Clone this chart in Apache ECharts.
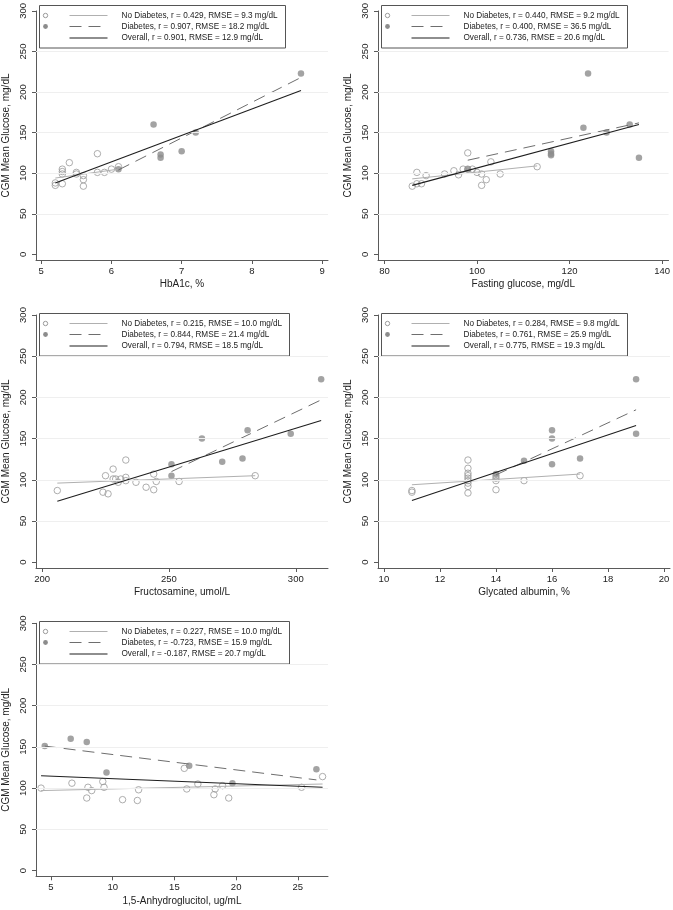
<!DOCTYPE html>
<html><head><meta charset="utf-8">
<script src="https://cdn.jsdelivr.net/npm/echarts@6/dist/echarts.min.js"></script>
<style>html,body{margin:0;padding:0;background:#fff}#c{width:673px;height:910px}</style>
</head><body><div id="c"></div>
<script>
const yTicks = [0, 50, 100, 150, 200, 250, 300];
const yGridLines = [50, 100, 150, 200, 250];
const yTitle = 'CGM Mean Glucose, mg/dL';

// Panel 1: HbA1c
const hba1cTitle = 'HbA1c, %';
const hba1cTicks = [5, 6, 7, 8, 9];
const hba1cNoDmX = [5.2, 5.2, 5.3, 5.3, 5.3, 5.3, 5.4, 5.5, 5.5, 5.6, 5.6, 5.6, 5.8, 5.8, 5.9, 6.0, 6.1];
const hba1cNoDmY = [88, 85, 87, 105, 102, 99, 113, 101, 99, 97, 92, 84, 124, 101, 101, 105, 108];
const hba1cDmX = [6.1, 6.6, 6.7, 6.7, 7.0, 7.2, 8.7];
const hba1cDmY = [105, 160, 123, 119, 127, 150, 223];
const hba1cFitNoDmX = [5.2, 6.1], hba1cFitNoDmY = [94, 105];
const hba1cFitDmX = [6.1, 8.7], hba1cFitDmY = [104, 218];
const hba1cFitAllX = [5.2, 8.7], hba1cFitAllY = [88, 202];
const hba1cLegend = ['No Diabetes, r = 0.429, RMSE = 9.3 mg/dL', 'Diabetes, r = 0.907, RMSE = 18.2 mg/dL', 'Overall, r = 0.901, RMSE = 12.9 mg/dL'];

// Panel 2: Fasting glucose
const fgTitle = 'Fasting glucose, mg/dL';
const fgTicks = [80, 100, 120, 140];
const fgNoDmX = [86, 87, 87, 88, 89, 93, 95, 96, 97, 98, 98, 99, 100, 101, 101, 102, 103, 105, 113];
const fgNoDmY = [84, 101, 87, 87, 97, 99, 103, 98, 105, 125, 105, 105, 101, 99, 85, 92, 114, 99, 108];
const fgDmX = [98, 116, 116, 116, 123, 124, 128, 133, 135];
const fgDmY = [105, 127, 124, 122, 156, 223, 150, 160, 119];
const fgFitNoDmX = [86, 113], fgFitNoDmY = [93, 109];
const fgFitDmX = [98, 135], fgFitDmY = [116, 162];
const fgFitAllX = [86, 135], fgFitAllY = [85, 160];
const fgLegend = ['No Diabetes, r = 0.440, RMSE = 9.2 mg/dL', 'Diabetes, r = 0.400, RMSE = 36.5 mg/dL', 'Overall, r = 0.736, RMSE = 20.6 mg/dL'];

// Panel 3: Fructosamine
const frTitle = 'Fructosamine, umol/L';
const frTicks = [200, 250, 300];
const frNoDmX = [206, 224, 225, 226, 228, 228, 229, 230, 231, 233, 233, 233, 237, 241, 244, 244, 245, 254, 284];
const frNoDmY = [87, 85, 105, 83, 113, 101, 101, 97, 101, 124, 103, 99, 97, 91, 107, 88, 98, 98, 105];
const frDmX = [251, 251, 263, 271, 279, 281, 298, 310];
const frDmY = [119, 105, 150, 122, 126, 160, 156, 222];
const frFitNoDmX = [206, 284], frFitNoDmY = [96, 105];
const frFitDmX = [251, 310], frFitDmY = [110, 197];
const frFitAllX = [206, 310], frFitAllY = [74, 172];
const frLegend = ['No Diabetes, r = 0.215, RMSE = 10.0 mg/dL', 'Diabetes, r = 0.844, RMSE = 21.4 mg/dL', 'Overall, r = 0.794, RMSE = 18.5 mg/dL'];

// Panel 4: Glycated albumin
const gaTitle = 'Glycated albumin, %';
const gaTicks = [10, 12, 14, 16, 18, 20];
const gaNoDmX = [11, 11, 13, 13, 13, 13, 13, 13, 13, 13, 13, 14, 14, 14, 14, 15, 17];
const gaNoDmY = [87, 85, 124, 114, 108, 105, 102, 99, 96, 92, 84, 105, 102, 99, 88, 99, 105];
const gaDmX = [14, 15, 16, 16, 16, 17, 19, 19];
const gaDmY = [107, 123, 160, 150, 119, 126, 156, 222];
const gaFitNoDmX = [11, 17], gaFitNoDmY = [94, 107];
const gaFitDmX = [14, 19], gaFitDmY = [106, 185];
const gaFitAllX = [11, 19], gaFitAllY = [75, 166];
const gaLegend = ['No Diabetes, r = 0.284, RMSE = 9.8 mg/dL', 'Diabetes, r = 0.761, RMSE = 25.9 mg/dL', 'Overall, r = 0.775, RMSE = 19.3 mg/dL'];

// Panel 5: 1,5-Anhydroglucitol
const agTitle = '1,5-Anhydroglucitol, ug/mL';
const agTicks = [5, 10, 15, 20, 25];
const agNoDmX = [4.2, 6.7, 7.9, 8.0, 8.3, 9.2, 9.3, 10.8, 12.0, 12.1, 15.8, 16.0, 16.9, 18.2, 18.3, 18.9, 19.4, 25.3, 27.0];
const agNoDmY = [100, 106, 88, 101, 97, 108, 101, 86, 85, 98, 124, 99, 105, 92, 99, 103, 88, 101, 114];
const agDmX = [4.5, 6.6, 7.9, 9.5, 16.2, 19.7, 26.5];
const agDmY = [151, 160, 156, 119, 127, 106, 123];
const agFitNoDmX = [4.2, 27.0], agFitNoDmY = [97, 105];
const agFitDmX = [4.5, 26.5], agFitDmY = [151, 110];
const agFitAllX = [4.2, 27.0], agFitAllY = [115, 101];
const agLegend = ['No Diabetes, r = 0.227, RMSE = 10.0 mg/dL', 'Diabetes, r = -0.723, RMSE = 15.9 mg/dL', 'Overall, r = -0.187, RMSE = 20.7 mg/dL'];

const zip = (xs, ys) => xs.map((x, i) => [x, ys[i]]);

const panels = [
  {title: hba1cTitle, ticks: hba1cTicks, xr: [4.925, 9.085], noX: hba1cNoDmX, noY: hba1cNoDmY, dmX: hba1cDmX, dmY: hba1cDmY,
   f1: [hba1cFitNoDmX, hba1cFitNoDmY], f2: [hba1cFitDmX, hba1cFitDmY], f3: [hba1cFitAllX, hba1cFitAllY], legend: hba1cLegend,
   grid: {left: 36, top: 6.7, width: 292, height: 253.3}, lg: {x: 39.5, y: 5.5, w: 246}},
  {title: fgTitle, ticks: fgTicks, xr: [78.6, 141.4], noX: fgNoDmX, noY: fgNoDmY, dmX: fgDmX, dmY: fgDmY,
   f1: [fgFitNoDmX, fgFitNoDmY], f2: [fgFitDmX, fgFitDmY], f3: [fgFitAllX, fgFitAllY], legend: fgLegend,
   grid: {left: 378, top: 6.7, width: 293, height: 253.3}, lg: {x: 381.5, y: 5.5, w: 246}},
  {title: frTitle, ticks: frTicks, xr: [197.6, 312.7], noX: frNoDmX, noY: frNoDmY, dmX: frDmX, dmY: frDmY,
   f1: [frFitNoDmX, frFitNoDmY], f2: [frFitDmX, frFitDmY], f3: [frFitAllX, frFitAllY], legend: frLegend,
   grid: {left: 36, top: 315, width: 292, height: 253}, lg: {x: 39.5, y: 313.5, w: 250}},
  {title: gaTitle, ticks: gaTicks, xr: [9.79, 20.21], noX: gaNoDmX, noY: gaNoDmY, dmX: gaDmX, dmY: gaDmY,
   f1: [gaFitNoDmX, gaFitNoDmY], f2: [gaFitDmX, gaFitDmY], f3: [gaFitAllX, gaFitAllY], legend: gaLegend,
   grid: {left: 378, top: 315, width: 292, height: 253}, lg: {x: 381.5, y: 313.5, w: 246}},
  {title: agTitle, ticks: agTicks, xr: [3.79, 27.44], noX: agNoDmX, noY: agNoDmY, dmX: agDmX, dmY: agDmY,
   f1: [agFitNoDmX, agFitNoDmY], f2: [agFitDmX, agFitDmY], f3: [agFitAllX, agFitAllY], legend: agLegend,
   grid: {left: 36, top: 623.3, width: 292, height: 253}, lg: {x: 39.5, y: 621.5, w: 250}}
];

const FONT = '"Liberation Sans", Arial, Helvetica, sans-serif';
const AXIS_COLOR = '#5a5a5a';
const TEXT_COLOR = '#222';
const NO_COLOR = '#9a9a9a';
const DM_COLOR = '#8c8c8c';
const NO_LINE = '#b0b0b0';
const DM_LINE = '#6e6e6e';
const ALL_LINE = '#1e1e1e';

const grids = [], xAxes = [], yAxes = [], series = [], graphics = [];
panels.forEach((p, i) => {
  grids.push(Object.assign({containLabel: false}, p.grid));
  xAxes.push({
    type: 'value', gridIndex: i, min: p.xr[0], max: p.xr[1],
    name: p.title, nameLocation: 'middle', nameGap: 19.5,
    nameTextStyle: {fontFamily: FONT, fontSize: 10, color: TEXT_COLOR},
    axisLine: {onZero: false, lineStyle: {color: AXIS_COLOR, width: 1}},
    axisTick: {show: true, length: 4, customValues: p.ticks, lineStyle: {color: AXIS_COLOR}},
    axisLabel: {customValues: p.ticks, margin: 6.5, fontFamily: FONT, fontSize: 9.5, color: TEXT_COLOR},
    splitLine: {show: false}
  });
  yAxes.push({
    type: 'value', gridIndex: i, min: -7, max: 300,
    name: yTitle, nameLocation: 'middle', nameGap: 25,
    nameTextStyle: {fontFamily: FONT, fontSize: 10, color: TEXT_COLOR},
    axisLine: {show: true, onZero: false, lineStyle: {color: AXIS_COLOR, width: 1}},
    axisTick: {show: true, length: 4, customValues: yTicks, lineStyle: {color: AXIS_COLOR}},
    axisLabel: {customValues: yTicks, rotate: 90, margin: 8, fontFamily: FONT, fontSize: 9.5, color: TEXT_COLOR},
    splitLine: {show: false}
  });
  series.push({
    type: 'scatter', xAxisIndex: i, yAxisIndex: i, symbol: 'circle', symbolSize: 6.5,
    itemStyle: {color: 'rgba(255,255,255,0)', borderColor: NO_COLOR, borderWidth: 1},
    data: zip(p.noX, p.noY), z: 3,
    markLine: {silent: true, symbol: 'none', label: {show: false}, animation: false,
      lineStyle: {color: '#efefef', type: 'solid', width: 1},
      emphasis: {disabled: true},
      data: yGridLines.map(v => ({yAxis: v}))}
  });
  series.push({
    type: 'scatter', xAxisIndex: i, yAxisIndex: i, symbol: 'circle', symbolSize: 6.5,
    itemStyle: {color: DM_COLOR, borderWidth: 0},
    data: zip(p.dmX, p.dmY), z: 3
  });
  series.push({
    type: 'line', xAxisIndex: i, yAxisIndex: i, showSymbol: false, symbol: 'none', z: 4,
    lineStyle: {color: NO_LINE, width: 1}, data: zip(p.f1[0], p.f1[1])
  });
  series.push({
    type: 'line', xAxisIndex: i, yAxisIndex: i, showSymbol: false, symbol: 'none', z: 4,
    lineStyle: {color: DM_LINE, width: 1, type: [12, 7]}, data: zip(p.f2[0], p.f2[1])
  });
  series.push({
    type: 'line', xAxisIndex: i, yAxisIndex: i, showSymbol: false, symbol: 'none', z: 5,
    lineStyle: {color: ALL_LINE, width: 1.1}, data: zip(p.f3[0], p.f3[1])
  });

  // legend box
  const L = p.lg;
  const rows = [10, 21, 32.5];
  graphics.push({
    type: 'group', x: L.x, y: L.y, z: 100,
    children: [
      {type: 'rect', shape: {x: 0, y: 0, width: L.w, height: 42.5}, style: {fill: '#fff', stroke: '#555', lineWidth: 1}},
      {type: 'circle', shape: {cx: 6, cy: rows[0], r: 2.2}, style: {fill: '#fff', stroke: NO_COLOR, lineWidth: 1}},
      {type: 'circle', shape: {cx: 6, cy: rows[1], r: 2.4}, style: {fill: DM_COLOR}},
      {type: 'line', shape: {x1: 30, y1: rows[0], x2: 68, y2: rows[0]}, style: {stroke: NO_LINE, lineWidth: 1}},
      {type: 'line', shape: {x1: 30, y1: rows[1], x2: 68, y2: rows[1]}, style: {stroke: DM_LINE, lineWidth: 1, lineDash: [12, 7]}},
      {type: 'line', shape: {x1: 30, y1: rows[2], x2: 68, y2: rows[2]}, style: {stroke: ALL_LINE, lineWidth: 1.1}},
      {type: 'text', x: 82, y: rows[0], style: {text: p.legend[0], fontFamily: FONT, fontSize: 8.2, fill: TEXT_COLOR, verticalAlign: 'middle'}},
      {type: 'text', x: 82, y: rows[1], style: {text: p.legend[1], fontFamily: FONT, fontSize: 8.2, fill: TEXT_COLOR, verticalAlign: 'middle'}},
      {type: 'text', x: 82, y: rows[2], style: {text: p.legend[2], fontFamily: FONT, fontSize: 8.2, fill: TEXT_COLOR, verticalAlign: 'middle'}}
    ]
  });
});

const chart = echarts.init(document.getElementById('c'), null, {renderer: 'canvas'});
chart.setOption({
  animation: false,
  backgroundColor: '#fff',
  grid: grids, xAxis: xAxes, yAxis: yAxes, series: series, graphic: graphics
});
</script></body></html>
